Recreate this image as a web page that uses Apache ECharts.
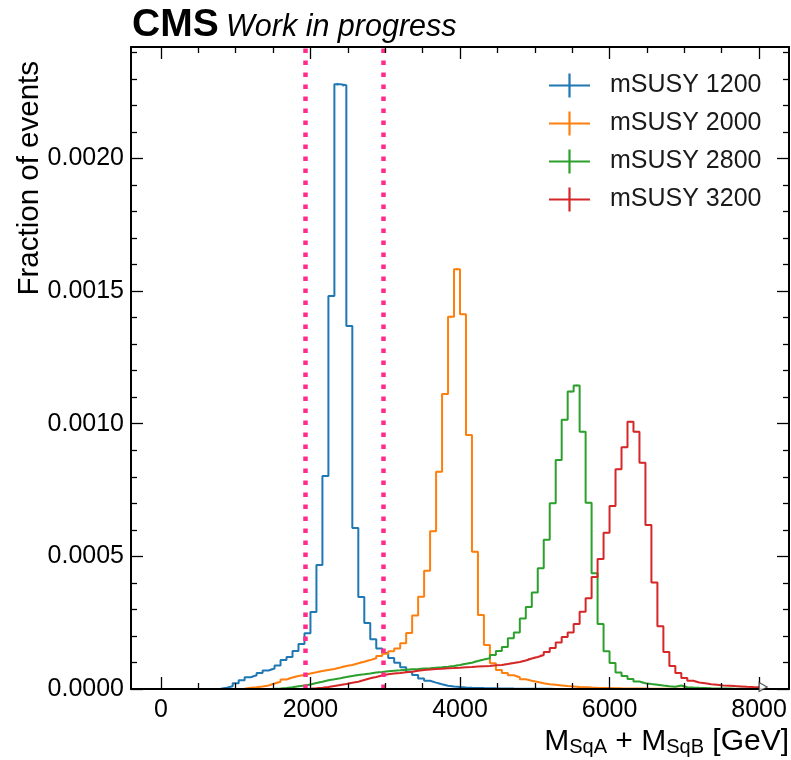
<!DOCTYPE html>
<html>
<head>
<meta charset="utf-8">
<script src="https://cdn.jsdelivr.net/npm/echarts@6/dist/echarts.min.js"></script>
<style>
  html, body { margin: 0; padding: 0; background: #ffffff; }
  #chart { width: 791px; height: 760px; }
</style>
</head>
<body>
<div id="chart"></div>
<script>
// Binning: 100 bins of 80 GeV covering 0 - 8000 GeV
const binStart = 0;
const binWidth = 80;

// Normalised bin contents (fraction of events per GeV), stored in units of 1e-6
const valueUnit = 1e-6;

const mSUSY1200 = [
  0, 0, 0, 0, 0, 0, 0, 0, 0.4, 1.1,
  4.5, 10.2, 21.5, 32.8, 44.5, 51.6, 60.3, 69.7, 77.2, 88.5,
  109, 121, 143, 170, 210, 290, 467, 803, 1481, 2280,
  2276, 1368, 607, 347, 249, 188, 153, 136, 117, 99,
  82, 65, 53, 40, 31, 24, 18, 12.4, 9.4, 7.5,
  6, 4.9, 4.1, 3.4, 3, 2.6, 2.3, 1.9, 1.5, 1.3,
  1.1, 0.9, 0.8, 0.6, 0.5, 0.4, 0.3, 0.2, 0, 0,
  0, 0, 0, 0, 0, 0, 0, 0, 0, 0,
  0, 0, 0, 0, 0, 0, 0, 0, 0, 0,
  0, 0, 0, 0, 0, 0, 0, 0, 0, 0
];

const mSUSY2000 = [
  0, 0, 0, 0, 0, 0, 0, 0, 0, 0,
  0, 0, 0, 1.1, 4.5, 6.8, 9.8, 13.2, 20.7, 27.5,
  35.8, 43.3, 49, 52.8, 58.4, 62.9, 67.8, 71.6, 75.4, 81,
  86.7, 90.4, 96.8, 103, 109, 116, 124, 133, 142, 153,
  172, 211, 277, 348, 446, 595, 819, 1112, 1403, 1582,
  1413, 957, 517, 279, 166, 97, 71.6, 60.3, 51.6, 44.1,
  36.5, 31.3, 26.4, 21.5, 17.7, 15.8, 13.6, 11.3, 9.4, 7.5,
  6.4, 5.3, 4.5, 3.8, 3.4, 3, 2.6, 2.3, 1.9, 1.7,
  1.5, 1.3, 1.1, 1, 0.9, 0.8, 0.7, 0.6, 0.5, 0.5,
  0.4, 0.4, 0.3, 0.3, 0.2, 0.2, 0.1, 0.1, 0, 0
];

const mSUSY2800 = [
  0, 0, 0, 0, 0, 0, 0, 0, 0, 0,
  0, 0, 0, 0, 0, 0, 0, 0, 0.8, 1.9,
  3.8, 6.8, 10.2, 13.2, 17, 22.6, 27.5, 32.8, 36.5, 40.3,
  45.2, 49, 52.8, 55.4, 58.4, 62.2, 64, 66.7, 69, 70.5,
  72.7, 74.2, 75.4, 77.2, 78.4, 80.3, 81.8, 84, 86.7, 90.4,
  95.3, 99.1, 105.5, 111, 116, 128, 143, 158, 191, 213,
  266, 309, 364, 455, 563, 700, 863, 1015, 1121, 1144,
  970, 702, 436, 245, 142, 98, 62.2, 49, 37.7, 28.3,
  21.9, 18.8, 16.2, 13.2, 10.6, 8.7, 13.2, 6.8, 5.3, 4.5,
  3.8, 3, 2.3, 1.9, 1.5, 1.1, 0.9, 0.8, 0.6, 0.4
];

const mSUSY3200 = [
  0, 0, 0, 0, 0, 0, 0, 0, 0, 0,
  0, 0, 0, 0, 0, 0, 0, 0, 0, 0,
  0, 0, 0, 0, 1.1, 2.6, 4.9, 7.5, 11.3, 15.1,
  18.8, 23.7, 27.5, 33.9, 40.3, 45.2, 50.9, 55.4, 58.4, 60.3,
  62.9, 65.2, 69, 71.6, 73.5, 75.4, 76.5, 78, 79.1, 80.3,
  81.8, 82.9, 84.8, 85.9, 86.7, 89.3, 90.4, 94.2, 98, 101.7,
  107.4, 114.9, 120.6, 128.1, 139.4, 154.5, 175.2, 196, 213, 245,
  291, 342, 422, 490, 589, 690, 828, 911, 1007, 970,
  853, 618, 401, 237, 139, 86.7, 60.3, 41.4, 30.9, 24.5,
  21.5, 18.1, 15.8, 13.2, 12.1, 10.9, 9.8, 8.3, 7.2, 6.4
];

const seriesNames = ['mSUSY 1200', 'mSUSY 2000', 'mSUSY 2800', 'mSUSY 3200'];
const seriesValues = [mSUSY1200, mSUSY2000, mSUSY2800, mSUSY3200];
const seriesColors = ['#1f77b4', '#ff7f0e', '#2ca02c', '#d62728'];

// Mass window drawn as dotted vertical lines (GeV)
const windowEdges = [1925, 2970];

// Generated events per sample, used for the Poisson error bars
const eventsPerSample = 1.4e6;

// Axis ranges and ticks
const xRange = [-400, 8400];
const yRange = [0, 0.00242];
const xMajorTicks = [0, 2000, 4000, 6000, 8000];
const xTickLabels = ['0', '2000', '4000', '6000', '8000'];
const xMinorTicks = [500, 1000, 1500, 2500, 3000, 3500, 4500, 5000, 5500, 6500, 7000, 7500];
const yMajorTicks = [0, 0.0005, 0.0010, 0.0015, 0.0020];
const yTickLabels = ['0.0000', '0.0005', '0.0010', '0.0015', '0.0020'];
const yMinorTicks = [0.0001, 0.0002, 0.0003, 0.0004, 0.0006, 0.0007, 0.0008, 0.0009,
                     0.0011, 0.0012, 0.0013, 0.0014, 0.0016, 0.0017, 0.0018, 0.0019,
                     0.0021, 0.0022, 0.0023, 0.0024];

const FONT = '"Liberation Sans", Arial, Helvetica, sans-serif';

function labelFor(ticks, labels, v) {
  for (let i = 0; i < ticks.length; i++) {
    if (Math.abs(ticks[i] - v) < 1e-9 * Math.max(1, Math.abs(v))) return labels[i];
  }
  return '';
}

// Step outline: one point per bin edge, last edge repeats the last content
function stepPoints(vals) {
  const pts = [[binStart, 0]];
  for (let i = 0; i < vals.length; i++) {
    pts.push([binStart + i * binWidth, vals[i] * valueUnit]);
  }
  const last = binStart + vals.length * binWidth;
  pts.push([last, vals[vals.length - 1] * valueUnit]);
  pts.push([last, 0]);
  return pts;
}

// Error bars at bin centres (statistical uncertainty of a density-normalised histogram)
function errorPoints(vals) {
  const pts = [];
  for (let i = 0; i < vals.length; i++) {
    const v = vals[i] * valueUnit;
    if (v <= 0) continue;
    const err = Math.sqrt(v / (eventsPerSample * binWidth));
    pts.push([binStart + (i + 0.5) * binWidth, v, err]);
  }
  return pts;
}

function xAxisDef(position, ticks, tickLen, withLabels, showLine) {
  return {
    type: 'value', gridIndex: 0, position: position,
    min: xRange[0], max: xRange[1], z: 10,
    axisLine: { show: showLine, onZero: false, lineStyle: { color: '#000', width: 2 } },
    axisTick: { show: true, inside: true, length: tickLen, customValues: ticks,
                lineStyle: { color: '#000', width: 1.3 } },
    axisLabel: withLabels ? {
      show: true, customValues: ticks, margin: 9, fontSize: 25, color: '#000', fontFamily: FONT,
      formatter: v => labelFor(xMajorTicks, xTickLabels, v)
    } : { show: false },
    splitLine: { show: false }
  };
}

function yAxisDef(position, ticks, tickLen, withLabels, showLine) {
  return {
    type: 'value', gridIndex: 0, position: position,
    min: yRange[0], max: yRange[1], z: 10,
    axisLine: { show: showLine, onZero: false, lineStyle: { color: '#000', width: 2 } },
    axisTick: { show: true, inside: true, length: tickLen, customValues: ticks,
                lineStyle: { color: '#000', width: 1.3 } },
    axisLabel: withLabels ? {
      show: true, customValues: ticks, margin: 7, fontSize: 25, color: '#000', fontFamily: FONT,
      formatter: v => labelFor(yMajorTicks, yTickLabels, v)
    } : { show: false },
    splitLine: { show: false }
  };
}

const plusIcon = 'path://M0,10.9 L41,10.9 L41,13.1 L0,13.1 Z M19.4,0 L21.6,0 L21.6,24 L19.4,24 Z';

const series = [];
seriesValues.forEach((vals, k) => {
  series.push({
    name: seriesNames[k], type: 'line', xAxisIndex: 0, yAxisIndex: 0,
    step: 'end', showSymbol: false, symbol: 'none', z: 2,
    data: stepPoints(vals),
    lineStyle: { color: seriesColors[k], width: 2 },
    itemStyle: { color: seriesColors[k] },
    emphasis: { disabled: true }
  });
});
seriesValues.forEach((vals, k) => {
  const col = seriesColors[k];
  series.push({
    type: 'custom', xAxisIndex: 0, yAxisIndex: 0, silent: true, z: 2,
    data: errorPoints(vals),
    renderItem: (params, api) => {
      const x = api.value(0), v = api.value(1), e = api.value(2);
      const p1 = api.coord([x, v - e]);
      const p2 = api.coord([x, v + e]);
      return { type: 'line', shape: { x1: p1[0], y1: p1[1], x2: p2[0], y2: p2[1] },
               style: { stroke: col, lineWidth: 1.6 } };
    }
  });
});
// Mass window boundaries
series.push({
  type: 'line', xAxisIndex: 0, yAxisIndex: 0, data: [], z: 4, silent: true,
  markLine: {
    silent: true, symbol: ['none', 'none'], animation: false,
    label: { show: false },
    lineStyle: { color: '#ff2a8c', width: 4.5, type: [4.5, 7.5], cap: 'butt' },
    emphasis: { disabled: true },
    data: windowEdges.map(x => ({ xAxis: x }))
  }
});
// Overflow hint at the upper edge of the binning
series.push({
  type: 'scatter', xAxisIndex: 0, yAxisIndex: 0, silent: true, z: 11,
  data: [[binStart + mSUSY1200.length * binWidth, 0]],
  symbol: 'path://M0,0 L10,5 L0,10 Z', symbolSize: [8, 9], symbolOffset: [4, -2],
  itemStyle: { color: '#ffffff', borderColor: '#333333', borderWidth: 1.3 }
});

const option = {
  animation: false,
  backgroundColor: '#ffffff',
  grid: { left: 131, top: 47, width: 658, height: 642, containLabel: false },
  xAxis: [
    xAxisDef('bottom', xMajorTicks, 12, true, true),
    xAxisDef('top', xMajorTicks, 12, false, true),
    xAxisDef('bottom', xMinorTicks, 6, false, false),
    xAxisDef('top', xMinorTicks, 6, false, false)
  ],
  yAxis: [
    yAxisDef('left', yMajorTicks, 12, true, true),
    yAxisDef('right', yMajorTicks, 12, false, true),
    yAxisDef('left', yMinorTicks, 6, false, false),
    yAxisDef('right', yMinorTicks, 6, false, false)
  ],
  legend: {
    data: seriesNames, orient: 'vertical', left: 544, top: 68,
    icon: plusIcon, itemWidth: 41, itemHeight: 24, itemGap: 13,
    selectedMode: false,
    textStyle: { fontSize: 25, fontFamily: FONT, color: '#1a1a1a', padding: [0, 0, 0, 15] }
  },
  graphic: [
    { type: 'text', x: 132, y: 25, silent: true,
      style: { text: 'CMS', font: 'bold 39px ' + FONT, fill: '#000',
               align: 'left', verticalAlign: 'middle', textAlign: 'left', textVerticalAlign: 'middle' } },
    { type: 'text', x: 226, y: 28, silent: true,
      style: { text: 'Work in progress', font: 'italic 30.5px ' + FONT, fill: '#000',
               align: 'left', verticalAlign: 'middle', textAlign: 'left', textVerticalAlign: 'middle' } },
    { type: 'text', x: 30, y: 61, rotation: Math.PI / 2, silent: true,
      style: { text: 'Fraction of events', font: '29.5px ' + FONT, fill: '#000',
               align: 'right', verticalAlign: 'middle', textAlign: 'right', textVerticalAlign: 'middle' } },
    { type: 'text', x: 789, y: 742, silent: true,
      style: {
        text: '{m|M}{s|SqA}{m| + M}{s|SqB}{m| [GeV]}',
        align: 'right', verticalAlign: 'middle', textAlign: 'right', textVerticalAlign: 'middle',
        rich: {
          m: { fontSize: 30, fontFamily: FONT, fill: '#000', color: '#000', lineHeight: 30, verticalAlign: 'middle' },
          s: { fontSize: 20, fontFamily: FONT, fill: '#000', color: '#000', lineHeight: 20,
               verticalAlign: 'bottom', padding: [21, 0, 0, 0] }
        }
      } }
  ],
  series: series
};

const chart = echarts.init(document.getElementById('chart'), null, { renderer: 'canvas' });
chart.setOption(option);
</script>
</body>
</html>
